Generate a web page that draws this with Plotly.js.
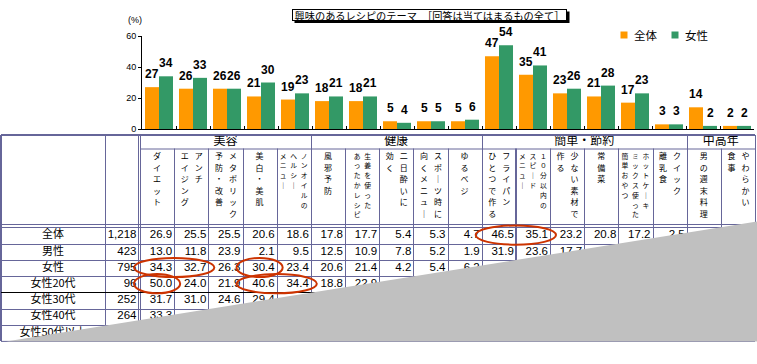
<!DOCTYPE html>
<html><head><meta charset="utf-8">
<script src="https://cdn.plot.ly/plotly-3.0.1.min.js"></script>
<style>html,body{margin:0;padding:0;background:#fff;}#chart{width:757px;height:364px;}</style>
</head><body><div id="chart"></div>
<script>
// ---------------- data ----------------
const categories = ['ダイエット','アンチエイジング','メタボリック予防・改善','美白・美肌','ノンオイルのヘルシーメニュー','風邪予防','生姜を使ったあったかレシピ','二日酔いに効く','スポーツ時に向くメニュー','ゆるベジ','フライパンひとつで作る','10分以内のスピードメニュー','少ない素材で作る','常備菜','ホットケーキミックス使った簡単おやつ','クイック離乳食','男の週末料理','やわらかい食事'];
const seriesNames = ['全体','女性'];
const totalPct  = [27,26,26,21,19,18,18,5,5,5,47,35,23,21,17,3,14,2];
const femalePct = [34,33,26,30,23,21,21,4,5,6,54,41,26,28,23,3,2,2];
const yTicks = [0,20,40,60];
const chartTitle = '興味のあるレシピのテーマ　［回答は当てはまるもの全て］';
const unitLabel = '(%)';

const groupNames = ['美容','健康','簡単・節約','中高年'];
const groupSizes = [5,5,6,2];
const headerLines = [
  ['ダイエット'], ['アンチ','エイジング'], ['メタボリック','予防・改善'], ['美白・美肌'], ['ノンオイルの','ヘルシー','メニュー'],
  ['風邪予防'], ['生姜を使った','あったかレシピ'], ['二日酔いに','効く'], ['スポーツ時に','向くメニュー'], ['ゆるベジ'],
  ['フライパン','ひとつで作る'], ['１０分以内の','スピード','メニュー'], ['少ない素材で','作る'], ['常備菜'],
  ['ホットケーキ','ミックス使った','簡単おやつ'], ['クイック','離乳食'], ['男の週末料理'], ['やわらかい','食事']
];
const smallHeader = [false,false,false,false,true,false,true,false,false,false,false,true,false,false,true,false,false,false];
const rowLabels = ['全体','男性','女性','女性20代','女性30代','女性40代','女性50代以上'];
const rowN = ['1,218','423','795','96','252','264',''];
const N = null;
const rowValues = [
  [26.9,25.5,25.5,20.6,18.6,17.8,17.7,5.4,5.3,4.7,46.5,35.1,23.2,20.8,17.2,2.5,N,N],
  [13.0,11.8,23.9,2.1,9.5,12.5,10.9,7.8,5.2,1.9,31.9,23.6,17.7,N,N,N,N,N],
  [34.3,32.7,26.3,30.4,23.4,20.6,21.4,4.2,5.4,6.2,N,N,N,N,N,N,N,N],
  [50.0,24.0,21.9,40.6,34.4,18.8,22.9,N,N,N,N,N,N,N,N,N,N,N],
  [31.7,31.0,24.6,29.4,N,N,N,N,N,N,N,N,N,N,N,N,N,N],
  [33.3,N,N,N,N,N,N,N,N,N,N,N,N,N,N,N,N,N],
  [N,N,N,N,N,N,N,N,N,N,N,N,N,N,N,N,N,N]
];
// highlighted cells (row index, first col, last col)
const highlights = [[2,0,1],[2,3,3],[3,0,0],[3,3,4],[0,10,11]];

// ---------------- layout constants (px) ----------------
const W = 757, H = 364;
const P = {axisX:142, axisRight:754, y0px:129, y60px:36,
  tblLeft:1, labelRight:105, nRight:138, dataLeft:140, dataRight:755,
  top:135, groupBottom:148.5, headBottom:227, rowH:16.2, tableDomTop:130};
const ORANGE = '#FF9900', GREEN = '#339966', LINE = '#666699', RED = '#CC3300';
const JP = 'Noto Sans CJK JP', NUM = 'Liberation Sans, Arial, sans-serif';

const nCols = categories.length;
const colW = (P.dataRight - P.dataLeft) / nCols;
const colLeft = k => P.dataLeft + colW * k;
const rowTop = i => P.headBottom + 0.5 + P.rowH * i;
const px = v => v / W, py = v => 1 - v / H;

// ---------------- bar traces ----------------
const traces = [
  {type:'bar', name:seriesNames[0], x:categories, y:totalPct, marker:{color:ORANGE}, xaxis:'x', yaxis:'y', hoverinfo:'skip', showlegend:false},
  {type:'bar', name:seriesNames[1], x:categories, y:femalePct, marker:{color:GREEN}, xaxis:'x', yaxis:'y', hoverinfo:'skip', showlegend:false}
];

// ---------------- table text ----------------
function textTrace(x,y,t,pos,font){
  return {type:'scatter', mode:'text', x, y, text:t, textposition:pos, textfont:font,
    xaxis:'x2', yaxis:'y2', showlegend:false, hoverinfo:'skip', cliponaxis:false};
}
const lblX=[],lblY=[],lblT=[];
rowLabels.forEach((t,i)=>{lblX.push((P.tblLeft+P.labelRight)/2); lblY.push(rowTop(i)+P.rowH/2); lblT.push(t);});
traces.push(textTrace(lblX,lblY,lblT,'middle center',{family:JP,size:11,color:'#000'}));

const numX=[],numY=[],numT=[];
rowN.forEach((t,i)=>{ if(t){numX.push(P.nRight-1.5); numY.push(rowTop(i)+P.rowH/2); numT.push(t);} });
rowValues.forEach((row,i)=>row.forEach((v,k)=>{
  if(v!==null){numX.push(colLeft(k+1)-2); numY.push(rowTop(i)+P.rowH/2); numT.push(v.toFixed(1));}
}));
traces.push(textTrace(numX,numY,numT,'middle left',{family:NUM,size:11.5,color:'#000'}));

// group header
const gX=[],gY=[],gT=[];
let acc=0;
groupNames.forEach((g,j)=>{ gX.push((colLeft(acc)+colLeft(acc+groupSizes[j]))/2); gY.push((P.top+P.groupBottom)/2+0.5); gT.push(g); acc+=groupSizes[j]; });
traces.push(textTrace(gX,gY,gT,'middle center',{family:JP,size:12,color:'#000'}));

// vertical header text, one character per point (top-to-bottom, columns right-to-left)
const hdr = {normal:{x:[],y:[],t:[]}, small:{x:[],y:[],t:[]}};
const offs = {1:[0],2:[7.5,-6.5],3:[10.5,0,-10.5]};
headerLines.forEach((lines,k)=>{
  const small = smallHeader[k];
  const tgt = small ? hdr.small : hdr.normal;
  const step = small ? 9.8 : 11.5;
  const cx = colLeft(k) + colW/2;
  const o = (small && lines.length===2) ? [5.5,-5] : offs[lines.length];
  lines.forEach((ln,j)=>{
    Array.from(ln).forEach((ch,c)=>{
      tgt.x.push(cx+o[j]); tgt.y.push(157 + c*step); tgt.t.push(ch==='ー' ? '｜' : ch);
    });
  });
});
traces.push(textTrace(hdr.normal.x,hdr.normal.y,hdr.normal.t,'middle center',{family:JP,size:8,color:'#000'}));
traces.push(textTrace(hdr.small.x,hdr.small.y,hdr.small.t,'middle center',{family:JP,size:6.8,color:'#000'}));

// ---------------- table lines ----------------
const shapes = [];
function seg(x0,y0,x1,y1,color,w){
  const a = (w%2===1)?0.5:0;
  if(x0===x1){x0+=a;x1+=a;} if(y0===y1){y0+=a;y1+=a;}
  shapes.push({type:'line',xref:'x2',yref:'y2',x0,y0,x1,y1,line:{color,width:w},layer:'above'});
}
const tblBottom = rowTop(rowLabels.length);
seg(P.tblLeft,P.top,P.dataRight,P.top,LINE,2);
seg(P.tblLeft,P.top,P.tblLeft,tblBottom,LINE,2);
seg(P.dataRight,P.top,P.dataRight,tblBottom,LINE,1);
seg(P.tblLeft,tblBottom,P.dataRight,tblBottom,LINE,1);
seg(P.labelRight,P.top,P.labelRight,tblBottom,LINE,1);
seg(P.nRight,P.top,P.nRight,tblBottom,LINE,1);
seg(P.dataLeft,P.top,P.dataLeft,tblBottom,LINE,1);
seg(P.dataLeft,P.groupBottom,P.dataRight,P.groupBottom,LINE,1);
const groupEdges = new Set(); acc=0; groupSizes.forEach(s=>{acc+=s; groupEdges.add(acc);});
for(let k=1;k<nCols;k++){
  const x = Math.round(colLeft(k));
  seg(x, groupEdges.has(k)?P.top:P.groupBottom, x, tblBottom, LINE, k===11?2:1);
}
seg(P.tblLeft,P.headBottom-3,P.dataRight,P.headBottom-3,LINE,1);
seg(P.tblLeft,P.headBottom,P.dataRight,P.headBottom,LINE,1);
for(let i=1;i<rowLabels.length;i++){
  seg(P.tblLeft,Math.round(rowTop(i)),P.dataRight,Math.round(rowTop(i)),i===4?'#000':LINE,1);
}
// highlight ellipses
highlights.forEach(([r,a,b])=>{
  shapes.push({type:'circle',xref:'x2',yref:'y2',x0:colLeft(a)-6,x1:colLeft(b+1)+6,y0:rowTop(r)-2,y1:rowTop(r+1)+1,
    line:{color:RED,width:2},layer:'above'});
});
// grey torn-off overlay
shapes.push({type:'path',xref:'x2',yref:'y2',path:'M 6 341.5 L 757 221.5 L 757 341.5 Z',
  fillcolor:'#C0C0C0',line:{width:0},layer:'above'});

// title drop shadow
const titleBox = {x:292, y:9, w:273, h:10};
shapes.push({type:'rect',xref:'paper',yref:'paper',x0:px(titleBox.x+2.5),x1:px(titleBox.x+titleBox.w+4.5),
  y0:py(titleBox.y+2.5),y1:py(titleBox.y+titleBox.h+4),fillcolor:'#000',line:{width:0},layer:'above'});

// legend keys
const legendKeys = [{x:624, color:ORANGE},{x:675, color:GREEN}];
legendKeys.forEach(k=>shapes.push({type:'rect',xref:'paper',yref:'paper',x0:px(k.x-3.5),x1:px(k.x+3.5),
  y0:py(31.5),y1:py(38.5),fillcolor:k.color,line:{width:0},layer:'above'}));

// ---------------- annotations ----------------
const annotations = [];
[totalPct,femalePct].forEach((vals,s)=>{
  vals.forEach((v,i)=>{
    annotations.push({xref:'x',yref:'y',x:categories[i],y:v,text:String(v),showarrow:false,
      xshift: s===0?-7:7, yshift:4, yanchor:'bottom', font:{family:NUM,size:12,color:'#000',weight:'bold'}});
  });
});
annotations.push({xref:'paper',yref:'paper',x:px(135),y:py(20),text:unitLabel,showarrow:false,
  font:{family:NUM,size:9,color:'#000'},xanchor:'center',yanchor:'middle'});
annotations.push({xref:'paper',yref:'paper',x:px(titleBox.x),y:py(titleBox.y),xanchor:'left',yanchor:'top',
  text:chartTitle,showarrow:false,width:titleBox.w,height:titleBox.h,valign:'middle',
  bgcolor:'#fff',bordercolor:'#000',borderwidth:1,borderpad:0,font:{family:JP,size:10.2,color:'#000'}});
seriesNames.forEach((n,i)=>annotations.push({xref:'paper',yref:'paper',x:px(legendKeys[i].x+7.5),y:py(35),
  xanchor:'left',yanchor:'middle',text:n,showarrow:false,font:{family:JP,size:11.5,color:'#000'}}));

const layout = {
  width:W, height:H, margin:{l:0,r:0,t:0,b:0},
  paper_bgcolor:'#fff', plot_bgcolor:'rgba(0,0,0,0)',
  font:{family:JP,color:'#000'},
  barmode:'group', bargap:0.176, bargroupgap:0,
  showlegend:false,
  xaxis:{domain:[px(P.axisX), P.axisRight/W], anchor:'y', type:'category', range:[-0.5,nCols-0.5],
    showline:true, linecolor:'#000', linewidth:1, ticks:'inside', tickson:'boundaries', ticklen:3, tickcolor:'#000',
    showticklabels:false, showgrid:false, zeroline:false, fixedrange:true},
  yaxis:{domain:[py(P.y0px), py(P.y60px)], anchor:'x', range:[0,60], tickvals:yTicks,
    showline:true, linecolor:'#000', linewidth:1, ticks:'outside', ticklen:3, tickcolor:'#000',
    tickfont:{family:NUM,size:9,color:'#000'}, showgrid:false, zeroline:false, fixedrange:true},
  xaxis2:{domain:[0,1], anchor:'y2', range:[0,W], visible:false, fixedrange:true},
  yaxis2:{domain:[0,(H-P.tableDomTop)/H], anchor:'x2', range:[H,P.tableDomTop], visible:false, fixedrange:true},
  shapes, annotations
};
Plotly.newPlot('chart', traces, layout, {staticPlot:true, displayModeBar:false});
</script></body></html>
